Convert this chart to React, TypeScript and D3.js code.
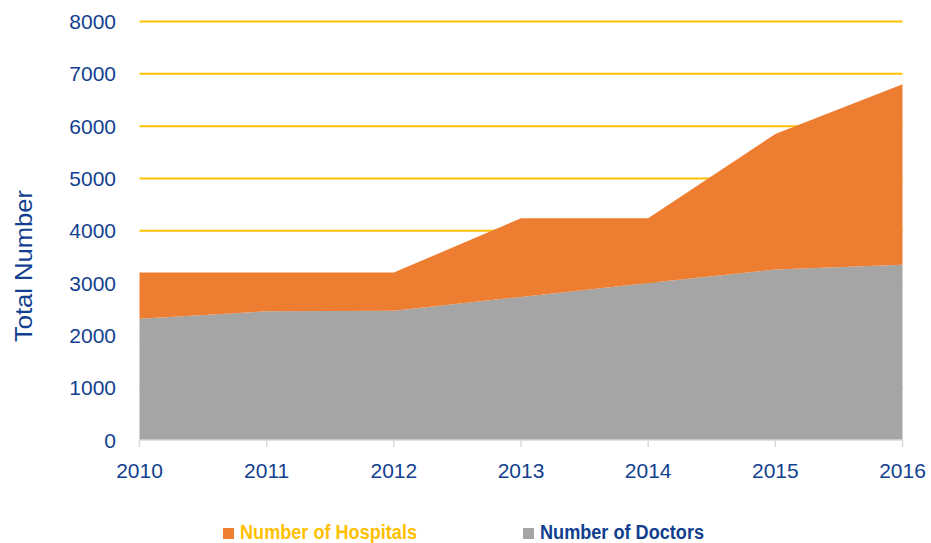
import React from "react";
import * as d3 from "d3";

const years = [2010, 2011, 2012, 2013, 2014, 2015, 2016];
const doctors = [2320, 2460, 2470, 2735, 3000, 3260, 3350];
const hospitals = [880, 740, 730, 1505, 1240, 2590, 3450];
const yTicks = [0, 1000, 2000, 3000, 4000, 5000, 6000, 7000, 8000];
const seriesNames = ["Number of Doctors", "Number of Hospitals"];

const W = 931, H = 543;
const blue = "#123f8f";
const orange = "#ed7d31";
const grey = "#a5a5a5";
const gold = "#ffc000";
const font = "'Liberation Sans', Arial, sans-serif";

export default function App() {
  const x = d3.scaleLinear().domain([2010, 2016]).range([139.5, 902.5]);
  const y = d3.scaleLinear().domain([0, 8000]).range([440, 21.5]);
  const data = years.map((yr, i) => ({ year: yr, doctors: doctors[i], hospitals: hospitals[i] }));
  const stack = d3.stack<any>().keys(["doctors", "hospitals"]);
  const layers = stack(data);
  const area = d3
    .area<any>()
    .x((d) => x(d.data.year))
    .y0((d) => y(d[0]))
    .y1((d) => y(d[1]));
  const colors = [grey, orange];

  return (
    <svg width={W} height={H} style={{ position: "absolute", left: 0, top: 0, background: "#fff" }}>
      {yTicks.filter((t) => t > 0).map((t) => (
        <line key={t} x1={x(2010)} x2={x(2016)} y1={y(t)} y2={y(t)} stroke={gold} strokeWidth={2} />
      ))}
      {layers.map((l, i) => (
        <path key={i} d={area(l) || ""} fill={colors[i]} />
      ))}
      <line x1={x(2010)} x2={x(2016)} y1={y(0)} y2={y(0)} stroke="#d9d9d9" strokeWidth={1.5} />
      {years.map((yr) => (
        <line key={yr} x1={x(yr)} x2={x(yr)} y1={y(0)} y2={y(0) + 7} stroke="#d9d9d9" strokeWidth={1.5} />
      ))}
      {yTicks.map((t) => (
        <text key={t} x={116} y={y(t)} dy="0.36em" textAnchor="end" fill={blue} fontFamily={font} fontSize={21}>
          {t}
        </text>
      ))}
      {years.map((yr) => (
        <text key={yr} x={x(yr)} y={478} textAnchor="middle" fill={blue} fontFamily={font} fontSize={21}>
          {yr}
        </text>
      ))}
      <text
        transform={`translate(32,266) rotate(-90)`}
        textAnchor="middle"
        fill={blue}
        fontFamily={font}
        fontSize={24.5}
        textLength={152}
        lengthAdjust="spacingAndGlyphs"
      >
        Total Number
      </text>
      <rect x={223} y={528} width={11} height={11} fill={orange} />
      <text x={240} y={539} fill={gold} fontFamily={font} fontWeight="bold" fontSize={20} textLength={177} lengthAdjust="spacingAndGlyphs">
        {seriesNames[1]}
      </text>
      <rect x={523} y={528} width={11} height={11} fill={grey} />
      <text x={540} y={539} fill={blue} fontFamily={font} fontWeight="bold" fontSize={20} textLength={164} lengthAdjust="spacingAndGlyphs">
        {seriesNames[0]}
      </text>
    </svg>
  );
}
